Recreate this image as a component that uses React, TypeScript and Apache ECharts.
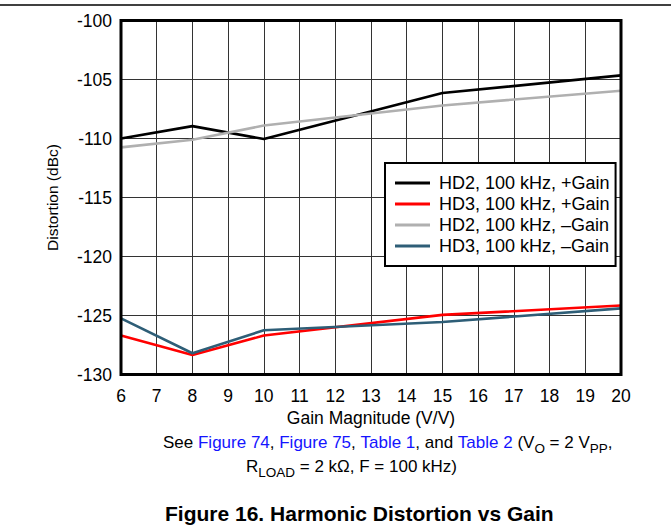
import React, { useEffect, useRef } from "react";
import * as echarts from "echarts";

const gains = [6, 8, 10, 15, 20];
const hd2Pos = [-110.0, -108.95, -110.05, -106.15, -104.65];
const hd3Pos = [-126.7, -128.35, -126.7, -124.95, -124.15];
const hd2Neg = [-110.75, -110.1, -108.9, -107.2, -105.95];
const hd3Neg = [-125.25, -128.2, -126.25, -125.55, -124.4];

const seriesNames = [
  "HD2, 100 kHz, +Gain",
  "HD3, 100 kHz, +Gain",
  "HD2, 100 kHz, \u2013Gain",
  "HD3, 100 kHz, \u2013Gain",
];
const seriesColors = ["#000000", "#ff0000", "#b0b0b0", "#2e5e77"];
const seriesData = [hd2Pos, hd3Pos, hd2Neg, hd3Neg];

const FONT = "'Liberation Sans', Arial, Helvetica, sans-serif";

export default function App() {
  const ref = useRef<HTMLDivElement>(null);
  useEffect(() => {
    if (!ref.current) return;
    const chart = echarts.init(ref.current, null, { renderer: "svg" });
    const series = seriesData.map((vals, i) => ({
      name: seriesNames[i],
      type: "line",
      data: gains.map((g, j) => [g, vals[j]]),
      symbol: "none",
      lineStyle: { color: seriesColors[i], width: 2.6 },
      itemStyle: { color: seriesColors[i] },
      z: 3 + i,
    }));
    const norm = { fontSize: 17, fill: "#000", fontFamily: FONT, lineHeight: 20, verticalAlign: "bottom" };
    const link = { ...norm, fill: "#1414ff" };
    const sub = { fontSize: 13.5, fill: "#000", fontFamily: FONT, lineHeight: 14, verticalAlign: "bottom", padding: [0, 0, -4, 0] };
    chart.setOption({
      animation: false,
      backgroundColor: "#fff",
      textStyle: { fontFamily: FONT },
      grid: {
        left: 121,
        top: 20.5,
        width: 500,
        height: 354,
        show: true,
        borderColor: "#000",
        borderWidth: 3,
        z: 10,
      },
      legend: {
        orient: "vertical",
        left: 385,
        top: 163,
        backgroundColor: "#fff",
        borderColor: "#000",
        borderWidth: 2,
        padding: [10, 6, 10, 10],
        itemWidth: 35,
        itemHeight: 3,
        itemGap: 1,
        icon: "rect",
        data: seriesNames,
        textStyle: { fontSize: 18, color: "#000", fontFamily: FONT, lineHeight: 20, padding: [0, 0, 0, 4] },
        z: 20,
      },
      xAxis: {
        type: "value",
        min: 6,
        max: 20,
        interval: 1,
        name: "Gain Magnitude (V/V)",
        nameLocation: "middle",
        nameGap: 27,
        nameTextStyle: { fontSize: 17.5, color: "#000", fontFamily: FONT },
        axisLine: { show: false },
        axisTick: { show: false },
        axisLabel: { fontSize: 17.5, color: "#000", margin: 12, fontFamily: FONT },
        splitLine: { show: true, lineStyle: { color: "#333", width: 1 } },
      },
      yAxis: {
        type: "value",
        min: -130,
        max: -100,
        interval: 5,
        name: "Distortion (dBc)",
        nameLocation: "middle",
        nameGap: 61,
        nameTextStyle: { fontSize: 15.5, color: "#000", fontFamily: FONT },
        axisLine: { show: false },
        axisTick: { show: false },
        axisLabel: { fontSize: 17.5, color: "#000", margin: 9, fontFamily: FONT },
        splitLine: { show: true, lineStyle: { color: "#333", width: 1 } },
      },
      graphic: [
        {
          type: "line",
          shape: { x1: 0, y1: 5, x2: 671, y2: 5 },
          style: { stroke: "#000", lineWidth: 1.5 },
        },
        {
          type: "text",
          left: 163,
          top: 434,
          style: {
            text: "{n|See }{l|Figure 74}{n|, }{l|Figure 75}{n|, }{l|Table 1}{n|, and }{l|Table 2}{n| (V}{s|O}{n| = 2 V}{s|PP}{n|,}",
            rich: { n: norm, l: link, s: sub },
          },
        },
        {
          type: "text",
          left: 246,
          top: 458,
          style: {
            text: "{n|R}{s|LOAD}{n| = 2 k\u03a9, F = 100 kHz)}",
            rich: { n: norm, s: sub },
          },
        },
        {
          type: "text",
          left: 165,
          top: 503,
          style: {
            text: "Figure 16. Harmonic Distortion vs Gain",
            fontSize: 21,
            fontWeight: "bold",
            fill: "#000",
            fontFamily: FONT,
          },
        },
      ],
      series,
    });
    return () => chart.dispose();
  }, []);
  return (
    <div
      ref={ref}
      style={{ position: "fixed", left: 0, top: 0, width: 671, height: 529 }}
    />
  );
}
